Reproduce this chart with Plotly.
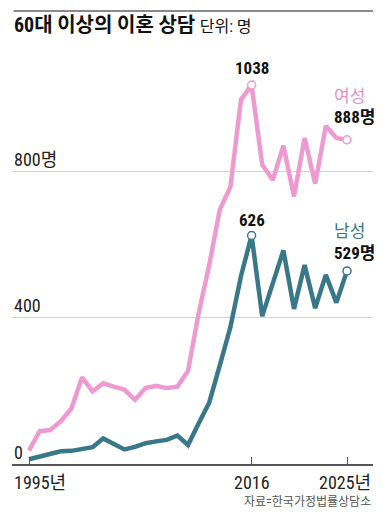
import plotly.graph_objects as go

years = list(range(1995, 2026))
female = [37, 90, 93, 117, 152, 237, 199, 221, 212, 204, 176, 208, 214, 208, 212,
          255, 412, 545, 697, 759, 998, 1038, 820, 778, 872, 733, 893, 768, 926, 893, 888]
male = [13, 20, 25, 35, 36, 40, 46, 70, 55, 40, 47, 57, 62, 66, 78,
        52, 111, 168, 270, 375, 515, 626, 405, 495, 585, 425, 545, 427, 518, 442, 529]
ytick_vals = [0, 400, 800]
ytick_text = ["0", "400", "800명"]
xtick_vals = [1995, 2016, 2025]
xtick_text = ["1995년", "2016", "2025년"]
title = "60대 이상의 이혼 상담"
unit = "단위: 명"
source = "자료=한국가정법률상담소"

PINK = "#EE9AD0"
PINK_TXT = "#E68FC6"
TEAL = "#397889"
FONT = "Liberation Sans Narrow, Roboto Condensed, DejaVu Sans Condensed, Noto Sans CJK KR, sans-serif"

fig = go.Figure()
fig.add_trace(go.Scatter(x=years, y=female, mode="lines",
                         line=dict(color=PINK, width=4.5), hoverinfo="skip"))
fig.add_trace(go.Scatter(x=years, y=male, mode="lines",
                         line=dict(color=TEAL, width=4.5), hoverinfo="skip"))

peak_i = years.index(2016)
fig.add_trace(go.Scatter(x=[years[peak_i], years[-1]], y=[female[peak_i], female[-1]],
                         mode="markers",
                         marker=dict(size=8, color="white", line=dict(color=PINK, width=1.5)),
                         hoverinfo="skip"))
fig.add_trace(go.Scatter(x=[years[peak_i], years[-1]], y=[male[peak_i], male[-1]],
                         mode="markers",
                         marker=dict(size=8, color="white", line=dict(color=TEAL, width=1.5)),
                         hoverinfo="skip"))

ann = []
# y labels
for v, t in zip(ytick_vals, ytick_text):
    ann.append(dict(x=0, xref="paper", xanchor="left", y=v, yref="y", yanchor="middle",
                    yshift=12, text=t, showarrow=False,
                    font=dict(family=FONT, size=18, color="#222")))
# x labels
for v, t in zip(xtick_vals, xtick_text):
    if v == xtick_vals[0]:
        a = dict(x=0, xref="paper", xanchor="left")
    elif v == xtick_vals[-1]:
        a = dict(x=1, xref="paper", xanchor="right")
    else:
        a = dict(x=v, xref="x", xanchor="center")
    a.update(y=0, yref="paper", yanchor="middle", yshift=-18, text=t, showarrow=False,
             font=dict(family=FONT, size=18, color="#222"))
    ann.append(a)

# value labels
ann.append(dict(x=years[peak_i], y=female[peak_i], xref="x", yref="y", text=f"<b>{female[peak_i]}</b>",
                showarrow=False, yshift=17, yanchor="middle", xanchor="center",
                font=dict(family=FONT, size=17, color="#111")))
ann.append(dict(x=years[peak_i], y=male[peak_i], xref="x", yref="y", text=f"<b>{male[peak_i]}</b>",
                showarrow=False, yshift=16, yanchor="middle", xanchor="center",
                font=dict(family=FONT, size=17, color="#111")))
ann.append(dict(x=years[-1], y=female[-1], xref="x", yref="y", text=f"<b>{female[-1]}명</b>",
                showarrow=False, yshift=23, xshift=-15, yanchor="middle", xanchor="left",
                font=dict(family=FONT, size=17, color="#111")))
ann.append(dict(x=years[-1], y=female[-1], xref="x", yref="y", text="여성",
                showarrow=False, yshift=44, xshift=-15, yanchor="middle", xanchor="left",
                font=dict(family=FONT, size=17, color=PINK_TXT)))
ann.append(dict(x=years[-1], y=male[-1], xref="x", yref="y", text=f"<b>{male[-1]}명</b>",
                showarrow=False, yshift=18, xshift=-15, yanchor="middle", xanchor="left",
                font=dict(family=FONT, size=17, color="#111")))
ann.append(dict(x=years[-1], y=male[-1], xref="x", yref="y", text="남성",
                showarrow=False, yshift=40, xshift=-15, yanchor="middle", xanchor="left",
                font=dict(family=FONT, size=17, color=TEAL)))

# title
ann.append(dict(x=0, xref="paper", xanchor="left", y=1, yref="paper", yanchor="middle",
                yshift=35, text=f"<b>{title}</b> <span style='font-size:16px;font-weight:normal'>{unit}</span>",
                showarrow=False, font=dict(family=FONT, size=20, color="#111")))
# source
ann.append(dict(x=1, xref="paper", xanchor="right", y=0, yref="paper", yanchor="middle",
                yshift=-38, text=source, showarrow=False,
                font=dict(family=FONT, size=12, color="#555")))
# top rule drawn as an arrowless annotation line
ann.append(dict(x=1, xref="paper", y=1, yref="paper", yshift=49, text="",
                showarrow=True, arrowhead=0, arrowwidth=2, arrowcolor="#8a8a8a",
                ax=-361, ay=0, axref="pixel", ayref="pixel", standoff=0, startstandoff=0))

# page body has an 8px margin: the figure is sized/offset to land on the reference pixels
fig.update_layout(
    width=374, height=511,
    margin=dict(l=4, r=9, t=52, b=55),
    paper_bgcolor="white", plot_bgcolor="white",
    showlegend=False,
    annotations=ann,
    xaxis=dict(range=[1993.396, 2027.453], showgrid=False, zeroline=False,
               showline=True, linecolor="#555", linewidth=1.5,
               ticks="inside", ticklen=7, tickcolor="#555", tickwidth=1,
               tickvals=xtick_vals, showticklabels=False, fixedrange=True),
    yaxis=dict(range=[0, 1106.8], showgrid=True, gridcolor="#d2d2d2", gridwidth=1,
               tickvals=ytick_vals[1:], showticklabels=False, zeroline=False,
               showline=False, fixedrange=True),
)

fig.write_html("out.html")
